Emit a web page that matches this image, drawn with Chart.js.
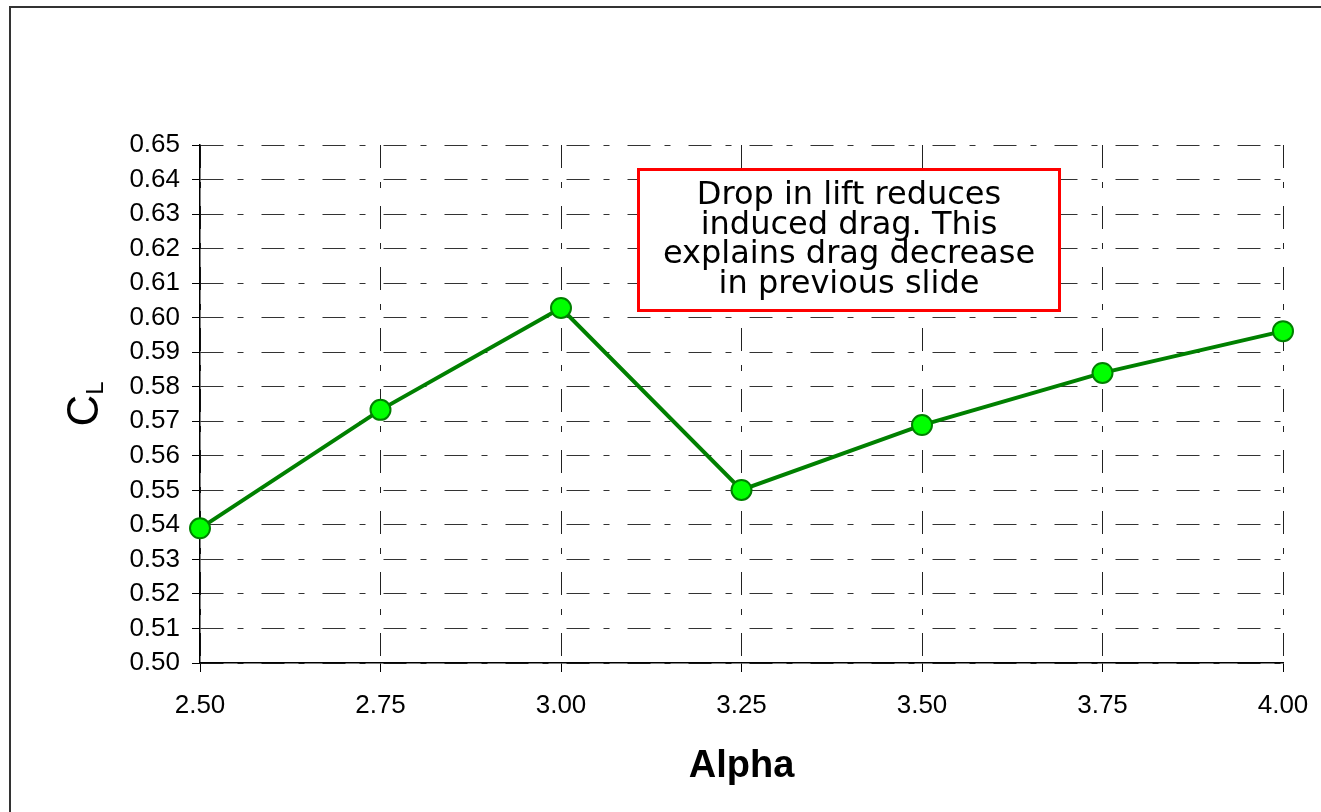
<!DOCTYPE html>
<html>
<head>
<meta charset="utf-8">
<script src="https://cdn.jsdelivr.net/npm/chart.js@4.4.1/dist/chart.umd.min.js"></script>
<style>
  html, body { margin: 0; padding: 0; background: #fff; overflow: hidden; }
  #wrap { position: relative; width: 1321px; height: 812px; }
  #frame {
    position: absolute; left: 9px; top: 6px; right: -10px; bottom: -10px;
    border-top: 2px solid #333; border-left: 2px solid #333;
    pointer-events: none;
  }
</style>
</head>
<body>
<div id="wrap">
  <canvas id="clChart" width="1321" height="812"></canvas>
  <div id="frame"></div>
</div>
<script>
// angle of attack and lift coefficient
const alpha = [2.50, 2.75, 3.00, 3.25, 3.50, 3.75, 4.00];
const liftCoef = [0.539, 0.5733, 0.6028, 0.5501, 0.5689, 0.584, 0.5961];

const xMin = 2.5, xMax = 4.0, xStep = 0.25;
const yMin = 0.50, yMax = 0.65, yStep = 0.01;

const noteLines = ['Drop in lift reduces', 'induced drag. This', 'explains drag decrease', 'in previous slide'];

const gridDash = [23, 14, 6, 18];

// vertical "C_L" axis title with subscript
const yTitlePlugin = {
  id: 'yTitle',
  afterDraw(chart) {
    const ctx = chart.ctx;
    const area = chart.chartArea;
    const cx = area.left - 102;
    const cy = (area.top + area.bottom) / 2;
    ctx.save();
    ctx.translate(cx, cy);
    ctx.rotate(-Math.PI / 2);
    ctx.fillStyle = '#000';
    ctx.textBaseline = 'alphabetic';
    ctx.textAlign = 'left';
    ctx.font = '44px "Liberation Sans", Arial, sans-serif';
    const wC = ctx.measureText('C').width;
    ctx.font = '24px "Liberation Sans", Arial, sans-serif';
    const wL = ctx.measureText('L').width;
    const start = -(wC + wL) / 2;
    ctx.font = '44px "Liberation Sans", Arial, sans-serif';
    ctx.fillText('C', start, 0);
    ctx.font = '24px "Liberation Sans", Arial, sans-serif';
    ctx.fillText('L', start + wC, 5);
    ctx.restore();
  }
};

// red text box over the upper right of the plot
const notePlugin = {
  id: 'note',
  afterDraw(chart) {
    const ctx = chart.ctx;
    const x = 637, y = 168, w = 424, h = 144;
    ctx.save();
    ctx.fillStyle = '#fff';
    ctx.fillRect(x, y, w, h);
    ctx.strokeStyle = '#ff0000';
    ctx.lineWidth = 3;
    ctx.strokeRect(x + 1.5, y + 1.5, w - 3, h - 3);
    ctx.fillStyle = '#000';
    ctx.font = '32px "DejaVu Sans", Verdana, sans-serif';
    ctx.textAlign = 'center';
    ctx.textBaseline = 'middle';
    const lh = 29.5;
    const y0 = y + h / 2 - lh * (noteLines.length - 1) / 2;
    noteLines.forEach((t, i) => ctx.fillText(t, x + w / 2, y0 + i * lh));
    ctx.restore();
  }
};

const points = alpha.map((a, i) => ({ x: a, y: liftCoef[i] }));

new Chart(document.getElementById('clChart').getContext('2d'), {
  type: 'line',
  data: {
    datasets: [{
      data: points,
      clip: false,
      borderColor: '#008000',
      borderWidth: 4,
      tension: 0,
      pointRadius: 10,
      pointHoverRadius: 10,
      pointBorderWidth: 2,
      pointBackgroundColor: '#00ff00',
      pointBorderColor: '#008000'
    }]
  },
  options: {
    responsive: false,
    animation: false,
    layout: { autoPadding: false, padding: { top: 145, right: 38, left: 0, bottom: 0 } },
    plugins: {
      legend: { display: false },
      tooltip: { enabled: false }
    },
    scales: {
      x: {
        type: 'linear',
        min: xMin,
        max: xMax,
        afterFit(scale) {
          scale.height = 149;
          scale.paddingLeft = 0;
          scale.paddingRight = 0;
        },
        afterBuildTicks(scale) {
          scale.ticks = alpha.map(v => ({ value: v }));
        },
        ticks: {
          stepSize: xStep,
          color: '#000',
          padding: 18,
          font: { family: '"Liberation Sans", Arial, sans-serif', size: 26 },
          callback: v => Number(v).toFixed(2),
          maxRotation: 0
        },
        grid: {
          color: '#222',
          lineWidth: 1,
          tickLength: 9,
          tickColor: '#000',
          tickBorderDash: []
        },
        border: { display: true, color: '#000', width: 1.5, dash: gridDash },
        title: {
          display: true,
          text: 'Alpha',
          color: '#000',
          font: { family: '"Liberation Sans", Arial, sans-serif', size: 38, weight: 'bold' },
          padding: { top: 0, bottom: 23 }
        }
      },
      y: {
        type: 'linear',
        min: yMin,
        max: yMax,
        afterFit(scale) { scale.width = 200; },
        ticks: {
          stepSize: yStep,
          color: '#000',
          padding: 12,
          font: { family: '"Liberation Sans", Arial, sans-serif', size: 26 },
          callback: v => Number(v).toFixed(2)
        },
        grid: {
          color: '#333',
          lineWidth: 1,
          tickLength: 8,
          tickColor: '#000',
          tickBorderDash: []
        },
        border: { display: true, color: '#000', width: 1.5, dash: gridDash }
      }
    }
  },
  plugins: [yTitlePlugin, notePlugin]
});
</script>
</body>
</html>
